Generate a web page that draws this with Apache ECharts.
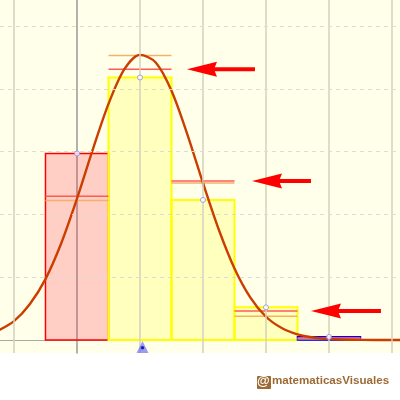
<!DOCTYPE html>
<html>
<head>
<meta charset="utf-8">
<script src="https://cdn.jsdelivr.net/npm/echarts@6/dist/echarts.min.js"></script>
<style>
html,body{margin:0;padding:0;background:#ffffff;}
#chart{width:400px;height:400px;}
</style>
</head>
<body>
<div id="chart"></div>
<script>
// ---- data ----
const xValues = [0, 1, 2, 3, 4];
const probabilities = [0.297, 0.418, 0.223, 0.052, 0.005];
const normalArea = [0.229, 0.431, 0.253, 0.046, 0.003];
const normalDensityAtX = [0.222, 0.453, 0.250, 0.038, 0.002];
const curveX = [-1.25, -1, -0.75, -0.5, -0.25, 0, 0.25, 0.5, 0.75, 1, 1.25, 1.5, 1.75, 2, 2.25, 2.5, 2.75, 3, 3.25, 3.5, 3.75, 4, 4.5, 5, 5.25];
const curveY = [0.015, 0.030, 0.057, 0.097, 0.154, 0.225, 0.303, 0.376, 0.431, 0.454, 0.442, 0.397, 0.328, 0.250, 0.176, 0.114, 0.068, 0.037, 0.019, 0.009, 0.004, 0.0015, 0.0002, 0, 0];
const meanValue = 1.04;
const gridLinesX = [-1, 1, 2, 3, 4, 5];
const gridLinesY = [0.1, 0.2, 0.3, 0.4, 0.5];
const arrowTipX = [1.746, 2.778, 3.714];
const arrowEndX = [2.825, 3.714, 4.825];
const arrowY = [0.431, 0.253, 0.046];
const watermarkText = 'matematicasVisuales';

// ---- styles ----
const barStyles = [
  {fill: 'rgba(255,30,60,0.21)', stroke: '#ff0000', lw: 1.5},
  {fill: 'rgba(255,255,0,0.19)', stroke: '#ffff00', lw: 2},
  {fill: 'rgba(255,255,0,0.19)', stroke: '#ffff00', lw: 2},
  {fill: 'rgba(255,255,0,0.19)', stroke: '#ffff00', lw: 2},
  {fill: 'rgba(90,110,255,0.55)', stroke: '#0000ff', lw: 1.5}
];

const chart = echarts.init(document.getElementById('chart'), null, {renderer: 'canvas'});

const barData = xValues.map((x, i) => [x, probabilities[i], i]);
const areaData = xValues.map((x, i) => [x, normalArea[i]]);
const densData = xValues.map((x, i) => [x, normalDensityAtX[i]]);
const curveData = curveX.map((x, i) => [x, curveY[i]]);
const pointData = xValues.map((x, i) => [x, probabilities[i]]);
const arrowData = arrowY.map((y, i) => [arrowTipX[i], y, arrowEndX[i]]);

function segRender(color) {
  return function (params, api) {
    const x = api.value(0), v = api.value(1);
    const a = api.coord([x - 0.5, v]);
    const b = api.coord([x + 0.5, v]);
    return {
      type: 'line',
      shape: {x1: a[0], y1: a[1], x2: b[0], y2: b[1]},
      style: {stroke: color, lineWidth: 1.5}
    };
  };
}

const option = {
  animation: false,
  backgroundColor: '#ffffff',
  grid: {left: 0, right: 0, top: 0, bottom: 47, show: true, backgroundColor: '#FFFFEA', borderWidth: 0},
  xAxis: {
    type: 'value', min: -1.222, max: 5.127,
    axisLine: {show: true, onZero: true, lineStyle: {color: '#aaaaaa', width: 1}},
    axisTick: {show: false}, axisLabel: {show: false}, splitLine: {show: false}
  },
  yAxis: {
    type: 'value', min: -0.0207, max: 0.5414,
    axisLine: {show: true, onZero: true, lineStyle: {color: '#9a9a9a', width: 1.5}},
    axisTick: {show: false}, axisLabel: {show: false}, splitLine: {show: false}
  },
  graphic: [
    {type: 'rect', left: 257, top: 376, shape: {width: 14, height: 13, r: 1}, style: {fill: '#9c6a35'}},
    {type: 'text', left: 257, top: 375, style: {text: '@', fill: '#ffffff', font: 'bold 13px "Liberation Sans", Arial, sans-serif'}},
    {type: 'text', left: 272, top: 375, style: {text: watermarkText, fill: '#9c6a35', font: 'bold 11.6px "Liberation Sans", Arial, sans-serif'}}
  ],
  series: [
    {
      type: 'line', data: [], z: 1, silent: true,
      markLine: {
        silent: true, symbol: 'none', label: {show: false}, animation: false,
        data: gridLinesX.map(v => ({xAxis: v, lineStyle: {color: '#d5d2bf', width: 1.5, type: 'solid'}}))
          .concat(gridLinesY.map(v => ({yAxis: v, lineStyle: {color: '#dcdcd4', width: 1, type: [4, 4]}})))
      }
    },
    {
      type: 'custom', z: 2, silent: true,
      data: barData,
      renderItem: function (params, api) {
        const x = api.value(0), v = api.value(1), idx = api.value(2);
        const tl = api.coord([x - 0.5, v]);
        const br = api.coord([x + 0.5, 0]);
        const s = barStyles[idx];
        return {
          type: 'rect',
          shape: {x: tl[0], y: tl[1], width: br[0] - tl[0], height: br[1] - tl[1]},
          style: {fill: s.fill, stroke: s.stroke, lineWidth: s.lw}
        };
      }
    },
    {type: 'custom', z: 3, silent: true, data: densData, renderItem: segRender('#f2b26a')},
    {type: 'custom', z: 3, silent: true, data: areaData, renderItem: segRender('#ff5a5a')},
    {
      type: 'line', z: 4, silent: true, data: curveData, smooth: 0.3, showSymbol: false,
      lineStyle: {color: '#cc3d00', width: 2.4}
    },
    {
      type: 'scatter', z: 5, silent: true, data: pointData, symbol: 'circle', symbolSize: 5,
      itemStyle: {color: '#ffffff', borderColor: '#8a8af0', borderWidth: 1}
    },
    {
      type: 'scatter', z: 5, silent: true, clip: false, data: [[meanValue, -0.011]], symbol: 'triangle', symbolSize: [12, 12],
      itemStyle: {color: 'rgba(90,90,245,0.75)'}
    },
    {
      type: 'scatter', z: 6, silent: true, clip: false, data: [[meanValue, -0.0125]], symbol: 'circle', symbolSize: 3.5,
      itemStyle: {color: '#0000aa'}
    },
    {
      type: 'custom', z: 7, silent: true, data: arrowData,
      renderItem: function (params, api) {
        const tip = api.coord([api.value(0), api.value(1)]);
        const end = api.coord([api.value(2), api.value(1)]);
        return {
          type: 'group',
          children: [
            {type: 'rect', shape: {x: tip[0] + 20, y: tip[1] - 2, width: end[0] - tip[0] - 20, height: 4}, style: {fill: '#ff0000'}},
            {type: 'polygon', shape: {points: [[tip[0], tip[1]], [tip[0] + 30, tip[1] - 7.5], [tip[0] + 27, tip[1]], [tip[0] + 30, tip[1] + 7.5]]}, style: {fill: '#ff0000'}}
          ]
        };
      }
    }
  ]
};
chart.setOption(option);
</script>
</body>
</html>
